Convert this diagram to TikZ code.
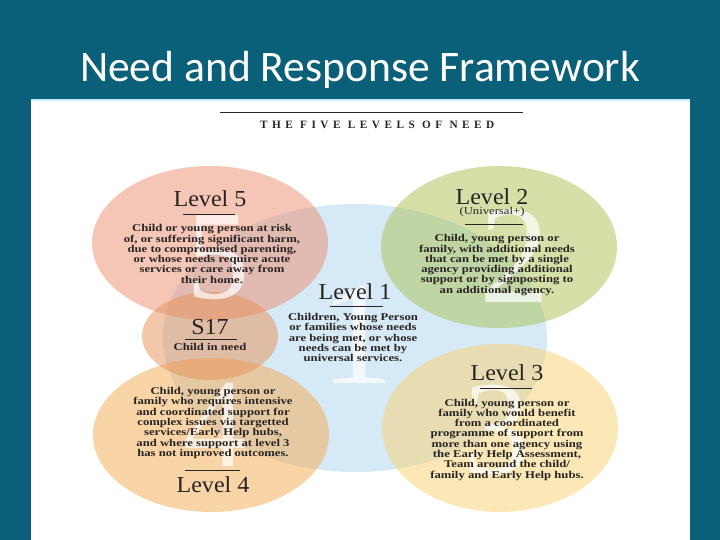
\documentclass[tikz,border=0pt]{standalone}
\usepackage{fontspec}
\setmainfont{Liberation Serif}
\newfontfamily\titlefont{Carlito}
\newfontfamily\bodyfont[FakeStretch=1.22]{Liberation Serif}
\newfontfamily\headfont[FakeStretch=1.05]{Liberation Serif}
\newfontfamily\spacedfont[LetterSpace=40]{Liberation Serif}
\definecolor{slide}{RGB}{10,96,121}
\definecolor{paleedge}{RGB}{205,238,242}
\definecolor{ink}{RGB}{40,36,34}
\definecolor{lvone}{RGB}{175,213,240}
\definecolor{lvtwo}{RGB}{170,195,80}
\definecolor{lvthree}{RGB}{250,210,110}
\definecolor{lvfour}{RGB}{245,170,80}
\definecolor{lvfive}{RGB}{236,140,110}
\definecolor{sseventeen}{RGB}{232,145,85}

\begin{document}
\begin{tikzpicture}[
        head/.style={font=\headfont\fontsize{16.3}{17}\selectfont, text=ink, anchor=base},
        body/.style={font=\bodyfont\bfseries\fontsize{7.4}{7.3}\selectfont, text=ink, align=center},
        blob/.style={fill=#1, fill opacity=0.5},
        numeral/.style={font=\fontsize{#1}{#1}\selectfont, text=white, text opacity=0.7},
        bar/.style={ink, line width=0.7pt}]
        \useasboundingbox (0,0) rectangle (18,13.5);

        % Фон
        \fill[slide] (0,0) rectangle (18,13.5);
        \fill[white] (0.775,0) rectangle (17.25,11.025);
        \draw[paleedge, line width=1pt] (0.775,11.0) -- (17.25,11.0);

        \node[font=\titlefont\fontsize{31}{31}\selectfont, text=white, anchor=base] (title) at (9,11.45) {Need and Response Framework};

        \draw[ink, line width=0.6pt] (5.5,10.7) -- (13.075,10.7);
        \node[font=\spacedfont\bfseries\fontsize{8}{8}\selectfont, text=ink] (five) at (9.43,10.375) {THE FIVE LEVELS OF NEED};

        % Круги
        \fill[blob=lvone]      (8.875,5.05)  ellipse (4.8cm and 3.35cm);
        \fill[blob=lvfive]     (5.25,7.425)  ellipse (2.95cm and 1.925cm);
        \fill[blob=lvtwo]      (12.475,7.325) ellipse (2.95cm and 2.025cm);
        \fill[blob=lvfour]     (5.275,2.625) ellipse (2.95cm and 1.925cm);
        \fill[blob=lvthree]    (12.5,2.8)    ellipse (2.95cm and 2.1cm);
        \fill[blob=sseventeen] (5.25,5.1)    ellipse (1.7cm and 1.1cm);

        % Цифры
        \node[numeral=90]  (nfive)  at (5.45,7.05)   {5};
        \node[numeral=100] (ntwo)   at (12.875,7.1)  {2};
        \node[numeral=105] (none)   at (8.925,5.125) {1};
        \node[numeral=90]  (nfour)  at (5.375,2.875) {4};
        \node[numeral=95]  (nthree) at (12.425,2.75) {3};

        % Подписи
        \node[head] (hfive) at (5.25,8.325) {Level 5};
        \draw[bar] (4.575,8.15) -- (5.875,8.15);
        \node[body] (bfive) at (5.3,7.15) {Child or young person at risk\\of, or suffering significant harm,\\due to compromised parenting,\\or whose needs require acute\\services or care away from\\their home.};

        \node[head] (htwo) at (12.3,8.375) {Level 2};
        \node[font=\bodyfont\fontsize{7.4}{7.4}\selectfont, text=ink, anchor=base] (utwo) at (12.3,8.125) {(Universal+)};
        \draw[bar] (11.625,7.9) -- (13.075,7.9);
        \node[body] (btwo) at (12.425,6.875) {Child, young person or\\family, with additional needs\\that can be met by a single\\agency providing additional\\support or by signposting to\\an additional agency.};

        \node[head] (hone) at (8.875,6.0) {Level 1};
        \draw[bar] (8.25,5.85) -- (9.575,5.85);
        \node[body] (bone) at (8.825,5.06) {Children, Young Person\\or families whose needs\\are being met, or whose\\needs can be met by\\universal services.};

        \node[head] (hsev) at (5.25,5.125) {S17};
        \draw[bar] (4.625,5.025) -- (5.925,5.025);
        \node[body] (bsev) at (5.25,4.825) {Child in need};

        \node[body] (bfour) at (5.325,2.925) {Child, young person or\\family who requires intensive\\and coordinated support for\\complex issues via targetted\\services/Early Help hubs,\\and where support at level 3\\has not improved outcomes.};
        \draw[bar] (4.625,1.75) -- (6.0,1.75);
        \node[head] (hfour) at (5.325,1.175) {Level 4};

        \node[head] (hthree) at (12.675,3.975) {Level 3};
        \draw[bar] (12.0,3.8) -- (13.3,3.8);
        \node[body] (bthree) at (12.675,2.51) {Child, young person or\\family who would benefit\\from a coordinated\\programme of support from\\more than one agency using\\the Early Help Assessment,\\Team around the child/\\family and Early Help hubs.};
    \end{tikzpicture}
\end{document}
